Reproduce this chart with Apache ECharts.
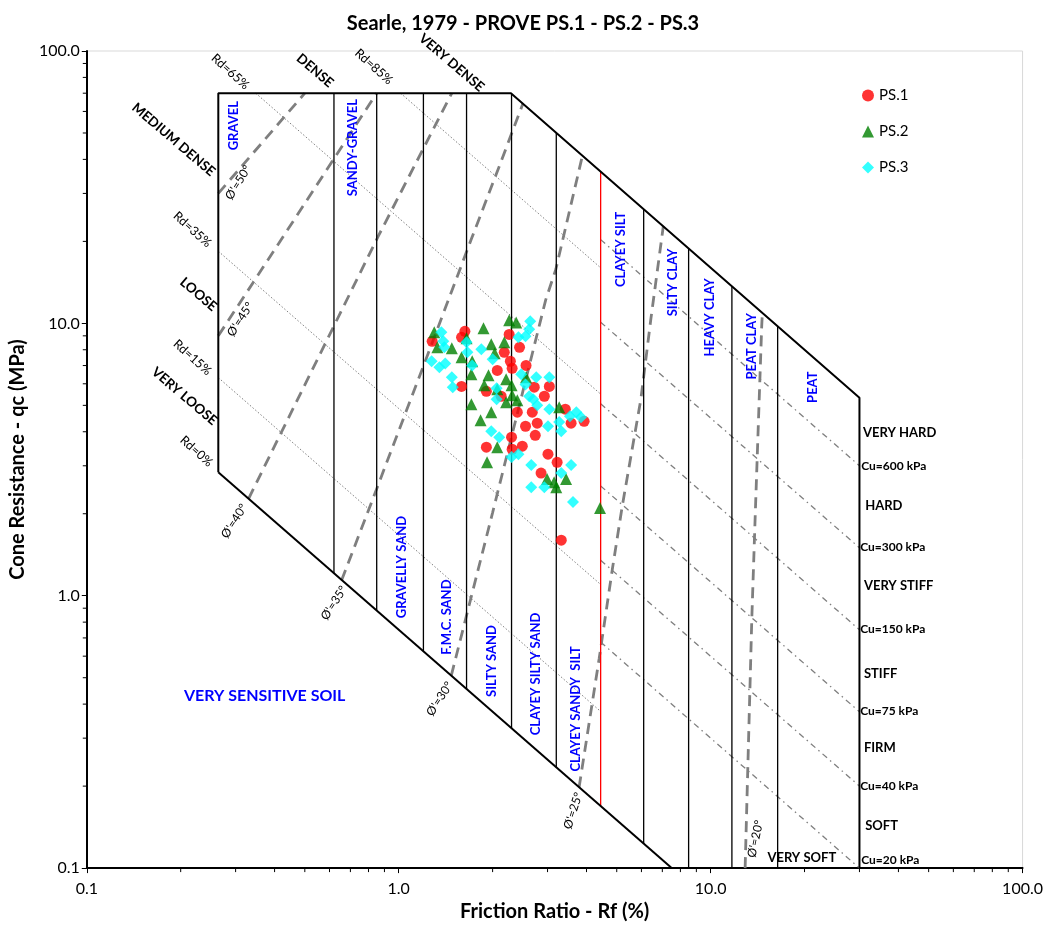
<!DOCTYPE html>
<html><head><meta charset="utf-8">
<script src="https://cdn.jsdelivr.net/npm/echarts@6/dist/echarts.min.js"></script>
<style>html,body{margin:0;padding:0;background:#fff}#c{width:1046px;height:927px}</style>
</head><body><div id="c"></div>
<script>
const FONT = 'Lato, "Liberation Sans", sans-serif';

// ---- measured data: [Rf (%), qc (MPa)] ----
const ps1 = [[1.63,9.35],[1.59,8.89],[1.28,8.59],[2.26,9.11],[2.44,8.17],[2.18,7.83],[2.28,7.26],[2.31,6.84],[2.56,7.01],[2.07,6.72],[1.59,5.87],[1.91,5.63],[2.13,5.40],[2.72,5.83],[3.04,5.87],[2.93,5.40],[2.40,4.72],[2.68,4.72],[2.78,4.30],[2.55,4.19],[2.74,3.88],[3.42,4.84],[3.57,4.30],[3.93,4.37],[2.30,3.82],[1.91,3.51],[2.31,3.45],[2.49,3.54],[3.01,3.31],[3.22,3.09],[2.86,2.82],[3.32,1.60]];
const ps2 = [[1.30,9.27],[1.33,8.17],[1.48,8.10],[1.65,8.81],[1.87,9.59],[2.26,10.26],[2.38,10.08],[1.98,8.38],[2.18,8.52],[2.03,7.76],[1.59,7.51],[1.72,7.26],[1.71,6.50],[1.94,6.45],[1.88,5.93],[2.21,6.23],[2.30,5.93],[2.07,5.73],[2.31,5.45],[2.40,5.22],[2.21,5.13],[1.71,5.05],[1.98,4.72],[1.83,4.41],[2.07,3.51],[1.92,3.09],[3.27,4.92],[2.99,2.68],[3.15,2.61],[3.44,2.68],[3.20,2.50],[4.42,2.10],[2.56,6.34]];
const ps3 = [[1.37,9.27],[1.39,8.59],[1.40,8.17],[1.275,7.26],[1.35,6.90],[1.41,7.13],[1.48,6.34],[1.49,5.83],[1.65,8.52],[1.66,7.83],[1.72,7.01],[1.84,8.03],[2.00,7.38],[2.64,10.17],[2.62,9.51],[2.42,8.89],[2.55,8.96],[2.47,6.50],[2.76,6.34],[3.04,6.34],[2.55,5.97],[2.06,5.78],[2.06,5.27],[2.62,5.40],[2.70,5.27],[2.78,5.00],[3.04,4.84],[3.01,4.19],[3.27,4.34],[3.32,4.02],[3.54,4.56],[3.71,4.72],[3.84,4.52],[1.98,4.02],[2.10,3.82],[2.30,3.23],[2.42,3.31],[2.66,3.02],[2.66,2.50],[2.93,2.50],[3.32,2.82],[3.57,3.02],[3.62,2.21]];

// ---- chart frame (Searle 1979) ----
const outerBoundary = [[0.264,2.84],[0.264,70],[2.29,70],[30,5.33],[30,0.1]];
const sensitiveBoundary = [[0.264,2.84],[7.5,0.1]];
// [Rf, qc bottom, qc top]
const zoneLines = [[0.62,1.21,70],[0.85,0.882,70],[1.2,0.625,70],[1.65,0.455,70],[2.3,0.326,69.6],[3.2,0.234,50],[6.1,0.123,26.2],[8.5,0.1,18.8],[11.7,0.1,13.7],[16.4,0.1,9.76]];
const redLine = [4.44,0.169,36.0];
const rdLines = [[[1.014,70],[4.44,16.0]],[[0.348,70],[4.44,5.5]],[[0.264,18.4],[4.44,1.10]],[[0.264,6.32],[4.44,0.376]]];
const cuLines = [[[4.44,20.3],[30,3.0]],[[4.44,10.1],[30,1.5]],[[4.44,5.07],[30,0.75]],[[4.44,2.53],[30,0.375]],[[4.44,1.35],[30,0.2]],[[4.44,0.676],[30,0.1]]];
const phiLines = [
  [[0.264,30],[0.50,70]],
  [[0.264,9.0],[0.427,20.9],[0.85,70]],
  [[0.33,2.27],[0.86,20.9],[1.48,70]],
  [[0.656,1.14],[0.818,2.2],[1.256,8.0],[1.707,20.3],[2.10,37.7],[2.50,64]],
  [[1.474,0.509],[2.0,2.02],[2.96,12.2],[3.19,15.8],[3.88,41.2]],
  [[3.787,0.198],[4.39,0.586],[4.84,1.25],[5.21,2.14],[5.975,5.27],[6.43,10.34],[7.05,22.7]],
  [[12.9,0.1],[13.55,0.82],[13.92,2.08],[14.58,9.78],[14.65,10.9]]
];

// ---- tick values ----
const xMinor = [0.2,0.3,0.4,0.5,0.6,0.7,0.8,0.9,2,3,4,5,6,7,8,9,20,30,40,50,60,70,80,90];
const yMinor = [0.2,0.3,0.4,0.5,0.6,0.7,0.8,0.9,2,3,4,5,6,7,8,9,20,30,40,50,60,70,80,90];

// ---- annotations: [text, Rf, qc, rotate] ----
const densityLabels = [['MEDIUM DENSE',0.1897,47.3],['DENSE',0.539,84.7],['VERY DENSE',1.477,90.6],['LOOSE',0.228,12.78],['VERY LOOSE',0.2056,5.40]];
const rdLabels = [['Rd=65%',0.2884,84.0],['Rd=85%',0.832,87.6],['Rd=35%',0.218,22.1],['Rd=15%',0.218,7.50],['Rd=0%',0.2246,3.39]];
const phiLabels = [["Ø'=50°",0.3059,32.9,58],["Ø'=45°",0.3105,10.34,57],["Ø'=40°",0.297,1.879,57],["Ø'=35°",0.620,0.940,57],["Ø'=30°",1.352,0.418,57],["Ø'=25°",3.624,0.1624,72],["Ø'=20°",13.92,0.128,78]];
const soilLabels = [['GRAVEL',0.297,53.2],['SANDY-GRAVEL',0.713,44.2],['GRAVELLY SAND',1.022,1.274],['F.M.C. SAND',1.423,0.835],['SILTY SAND',1.982,0.576],['CLAYEY SILTY SAND',2.76,0.516],['CLAYEY SANDY  SILT',3.705,0.384],['CLAYEY SILT',5.158,18.68],['SILTY CLAY',7.56,14.14],['HEAVY CLAY',9.93,10.52],['PEAT CLAY',13.52,8.23],['PEAT',21.33,5.83]];
const sensitiveLabel = ['VERY SENSITIVE SOIL',0.3718,0.4287];
const consistencyLabels = [['VERY HARD',30.8,3.95],['HARD',31.3,2.13],['VERY STIFF',31.0,1.085],['STIFF',31.0,0.516],['FIRM',31.0,0.2764],['SOFT',31.3,0.143]];
const cuLabels = [['Cu=600 kPa',30.4,2.99],['Cu=300 kPa',30.15,1.509],['Cu=150 kPa',30.15,0.755],['Cu=75 kPa',30.15,0.378],['Cu=40 kPa',30.15,0.2005],['Cu=20 kPa',30.4,0.1073]];
const verySoftLabel = ['VERY SOFT',25.27,0.1092];

// ---- build ----
function lineSeries(pts, color, width, type, z) {
  return {type:'line', data:pts, symbol:'none', silent:true, animation:false, z:z||2,
    lineStyle:{color:color, width:width, type:type||'solid'}};
}
const series = [];
series.push(lineSeries(outerBoundary,'#000',2,'solid',3));
series.push(lineSeries(sensitiveBoundary,'#000',2,'solid',3));
zoneLines.forEach(z => series.push(lineSeries([[z[0],z[1]],[z[0],z[2]]],'#000',1.3,'solid',2)));
series.push(lineSeries([[redLine[0],redLine[1]],[redLine[0],redLine[2]]],'#ff0000',1.3,'solid',2));
rdLines.forEach(p => series.push(lineSeries(p,'#7f7f7f',1,[1.5,2],1)));
cuLines.forEach(p => series.push(lineSeries(p,'#7f7f7f',1.3,[6,4,1.5,4],1)));
phiLines.forEach(p => series.push(lineSeries(p,'#7f7f7f',2.8,[11,7],1)));

const ann = [];
const add = (txt, rf, qc, rot, size, weight, color, align) => ann.push({txt, rf, qc, rot, size, weight, color, align:align||'center'});
densityLabels.forEach(l => add(l[0],l[1],l[2],-40.5,13.5,'bold','#000'));
rdLabels.forEach(l => add(l[0],l[1],l[2],-42,12.5,'normal','#000'));
phiLabels.forEach(l => add(l[0],l[1],l[2],l[3],12,'normal','#000'));
soilLabels.forEach(l => add(l[0],l[1],l[2],90,13,'bold','#0000ff'));
add(sensitiveLabel[0],sensitiveLabel[1],sensitiveLabel[2],0,16,'bold','#0000ff');
consistencyLabels.forEach(l => add(l[0],l[1],l[2],0,13,'bold','#000','left'));
cuLabels.forEach(l => add(l[0],l[1],l[2],0,12,'bold','#000','left'));
add(verySoftLabel[0],verySoftLabel[1],verySoftLabel[2],0,13,'bold','#000','right');

series.push({type:'custom', coordinateSystem:'cartesian2d', silent:true, clip:false, z:4,
  data: ann.map(a => [a.rf, a.qc]), encode:{x:0,y:1},
  renderItem:(params, api) => {
    const a = ann[params.dataIndex];
    const p = api.coord([api.value(0), api.value(1)]);
    return {type:'text', x:p[0], y:p[1], rotation:a.rot*Math.PI/180,
      style:{text:a.txt, fill:a.color, fontSize:a.size, fontWeight:a.weight, fontFamily:'Lato',
        align:a.align, verticalAlign:'middle'}};
  }});

series.push({type:'custom', coordinateSystem:'cartesian2d', silent:true, clip:false, z:5,
  data: xMinor.map(v=>[v,0.1,0]).concat(yMinor.map(v=>[0.1,v,1])),
  encode:{x:0,y:1},
  renderItem:(params, api) => {
    const p = api.coord([api.value(0), api.value(1)]);
    const isY = api.value(2) === 1;
    return {type:'line', shape: isY ? {x1:p[0]-4,y1:p[1],x2:p[0],y2:p[1]} : {x1:p[0],y1:p[1],x2:p[0],y2:p[1]+4},
      style:{stroke:'#000', lineWidth:1}};
  }});

series.push({name:'PS.1', type:'scatter', data:ps1, symbol:'circle', symbolSize:11, itemStyle:{color:'#ff0000'}, z:6});
series.push({name:'PS.2', type:'scatter', data:ps2, symbol:'triangle', symbolSize:12, itemStyle:{color:'#008000'}, z:7});
series.push({name:'PS.3', type:'scatter', data:ps3, symbol:'diamond', symbolSize:12, itemStyle:{color:'#00ffff'}, z:8});

const axisCommon = {
  type:'log', logBase:10, min:0.1, max:100,
  axisLine:{show:true, lineStyle:{color:'#000', width:2}},
  axisTick:{show:true, length:5, lineStyle:{color:'#000', width:1}},
  splitLine:{show:false},
  axisLabel:{formatter: v => Number(v).toFixed(1), fontSize:16, color:'#000', fontFamily:FONT},
  nameTextStyle:{fontSize:20, fontWeight:'bold', color:'#000', fontFamily:FONT},
  nameLocation:'middle'
};
const chart = echarts.init(document.getElementById('c'), null, {renderer:'canvas'});
chart.setOption({
  animation:false,
  backgroundColor:'#fff',
  title:{text:'Searle, 1979 - PROVE PS.1 - PS.2 - PS.3', left:'center', top:9,
    textStyle:{fontSize:20, fontWeight:'bold', color:'#000', fontFamily:FONT}},
  legend:{orient:'vertical', left:857, top:83, itemWidth:12, itemHeight:12, itemGap:21,
    data:['PS.1','PS.2','PS.3'], textStyle:{fontSize:15, color:'#000', fontFamily:FONT}},
  grid:{left:86, right:21, top:51, bottom:58, show:true, borderColor:'#d9d9d9', borderWidth:1},
  xAxis:Object.assign({}, axisCommon, {name:'Friction Ratio - Rf (%)', nameGap:33,
    axisLabel:Object.assign({}, axisCommon.axisLabel, {margin:13})}),
  yAxis:Object.assign({}, axisCommon, {name:'Cone Resistance - qc (MPa)', nameGap:56,
    axisLabel:Object.assign({}, axisCommon.axisLabel, {margin:7})}),
  series:series
});
</script></body></html>
